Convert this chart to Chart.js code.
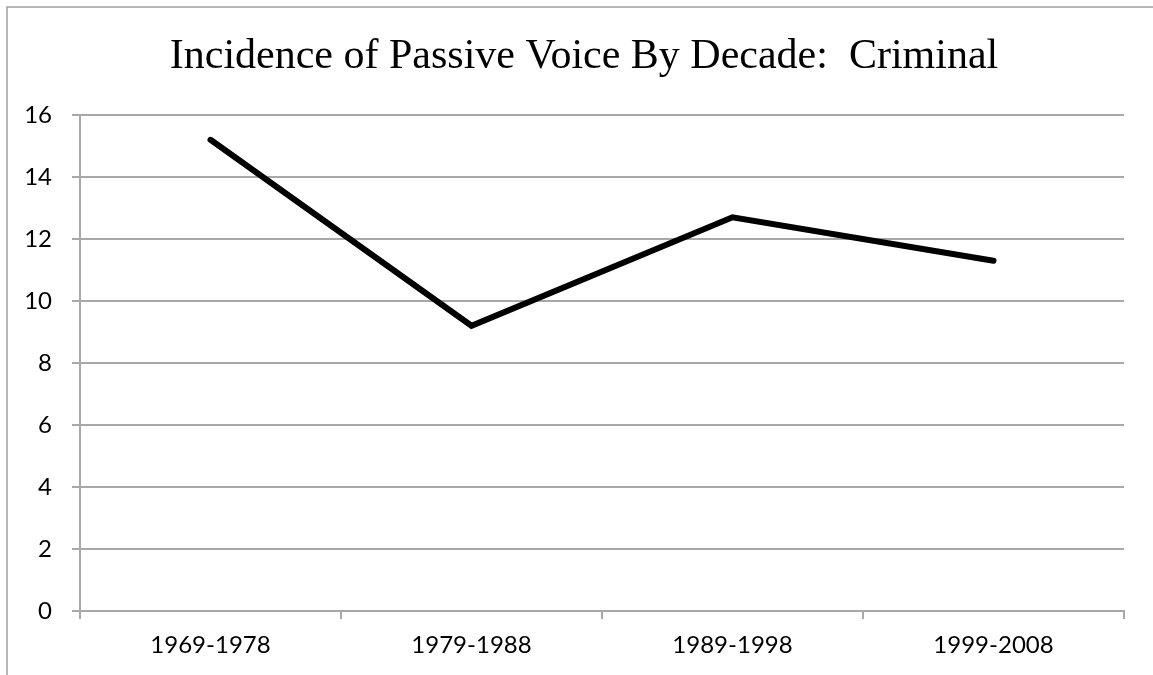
<!DOCTYPE html>
<html>
<head>
<meta charset="utf-8">
<title>Incidence of Passive Voice By Decade: Criminal</title>
<script src="https://cdn.jsdelivr.net/npm/chart.js@4.4.1/dist/chart.umd.min.js"></script>
<style>
  html, body { margin: 0; padding: 0; background: #ffffff; }
  canvas { display: block; }
</style>
</head>
<body>
<canvas id="chart" width="1153" height="675"></canvas>
<script>
// Decades on the horizontal axis
const decades = ['1969-1978', '1979-1988', '1989-1998', '1999-2008'];
// Passive voice incidence per decade
const passiveIncidence = [15.2, 9.2, 12.7, 11.3];
// Vertical axis range
const yMin = 0;
const yMax = 16;
const yStep = 2;

const titleText = 'Incidence of Passive Voice By Decade:  Criminal';
const gridGray = '#a8a8a8';

// White page, thin gray frame, and the chart heading centred over the frame
const framePlugin = {
  id: 'frame',
  beforeDraw(chart) {
    const ctx = chart.ctx;
    ctx.save();
    ctx.fillStyle = '#ffffff';
    ctx.fillRect(0, 0, chart.width, chart.height);
    ctx.strokeStyle = '#a0a0a0';
    ctx.lineWidth = 1.5;
    ctx.beginPath();
    ctx.moveTo(7, chart.height + 5);
    ctx.lineTo(7, 7);
    ctx.lineTo(chart.width + 5, 7);
    ctx.stroke();
    ctx.restore();
  },
  afterDraw(chart) {
    const ctx = chart.ctx;
    ctx.save();
    ctx.fillStyle = '#000000';
    ctx.font = '42px "Liberation Serif", serif';
    ctx.textAlign = 'center';
    ctx.textBaseline = 'alphabetic';
    ctx.fillText(titleText, 584, 68);
    ctx.restore();
  }
};

new Chart(document.getElementById('chart'), {
  type: 'line',
  data: {
    labels: decades,
    datasets: [{
      data: passiveIncidence,
      borderColor: '#000000',
      borderWidth: 6,
      borderCapStyle: 'round',
      borderJoinStyle: 'miter',
      pointRadius: 0,
      tension: 0,
      fill: false
    }]
  },
  options: {
    responsive: false,
    animation: false,
    devicePixelRatio: 1,
    layout: { padding: { left: 0, right: 29, top: 115, bottom: 0 } },
    plugins: {
      legend: { display: false },
      tooltip: { enabled: false },
      title: { display: false }
    },
    scales: {
      x: {
        offset: true,
        grid: {
          offset: true,
          drawOnChartArea: false,
          drawTicks: true,
          tickLength: 8,
          color: gridGray,
          lineWidth: 2
        },
        border: { display: true, color: gridGray, width: 2 },
        ticks: {
          color: '#000000',
          padding: 12,
          maxRotation: 0,
          font: { family: 'Lato, "Liberation Sans", sans-serif', size: 24 }
        },
        afterFit(axis) { axis.height = 64; }
      },
      y: {
        min: yMin,
        max: yMax,
        grid: {
          drawTicks: true,
          tickLength: 8,
          color: gridGray,
          lineWidth: 2
        },
        border: { display: true, color: gridGray, width: 2 },
        ticks: {
          stepSize: yStep,
          color: '#000000',
          padding: 20,
          font: { family: 'Lato, "Liberation Sans", sans-serif', size: 24 }
        },
        afterFit(axis) { axis.width = 80; }
      }
    }
  },
  plugins: [framePlugin]
});
</script>
</body>
</html>
